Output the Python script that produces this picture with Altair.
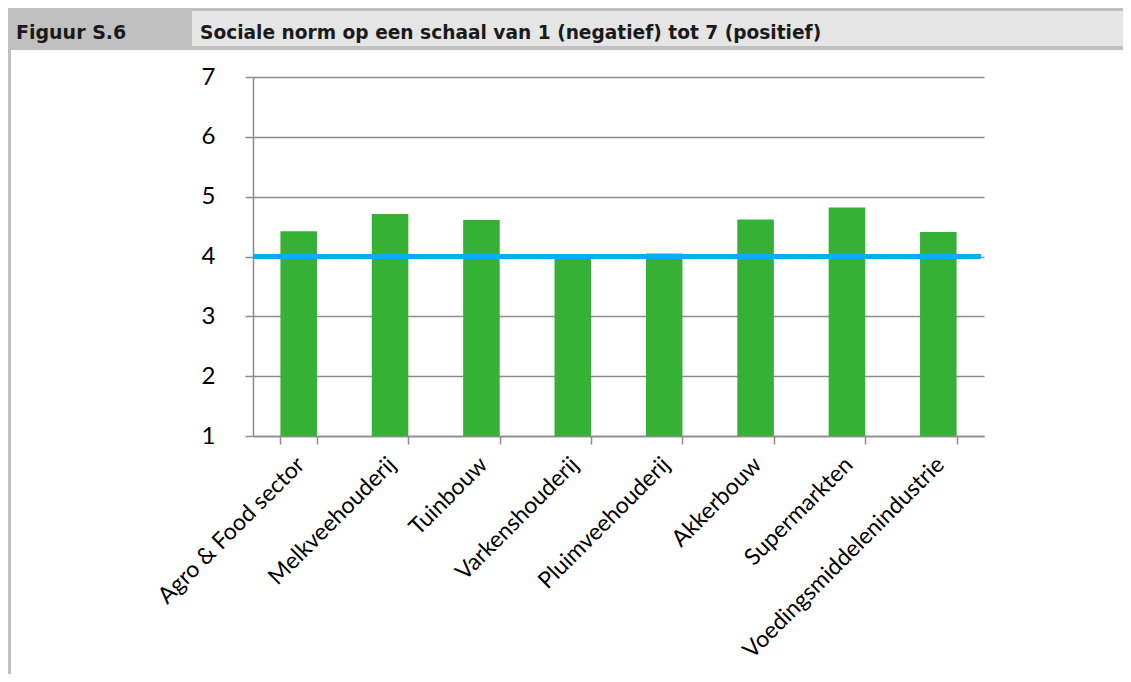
import altair as alt
import pandas as pd

categories = ["Agro & Food sector", "Melkveehouderij", "Tuinbouw", "Varkenshouderij",
              "Pluimveehouderij", "Akkerbouw", "Supermarkten", "Voedingsmiddelenindustrie"]
values = [4.42, 4.71, 4.61, 4.02, 4.05, 4.62, 4.82, 4.41]
reference_value = [4]
y_ticks = [1, 2, 3, 4, 5, 6, 7]
header_label = "Figuur S.6"
header_title = "Sociale norm op een schaal van 1 (negatief) tot 7 (positief)"

df = pd.DataFrame({"sector": categories, "score": values})
ref = pd.DataFrame({"v": reference_value})
one = pd.DataFrame({"k": [0]})

W, H = 731, 359
PL, PT = 245, 69
TOTAL_W, TOTAL_H = 1115, 666
GRID = "#8c8c8c"
LABEL_FONT = "Lato"
HEAD_FONT = "DejaVu Sans"

x = alt.X("sector:N", sort=categories,
          scale=alt.Scale(paddingInner=0.6, paddingOuter=0.3),
          axis=alt.Axis(title=None, labelAngle=-45, labelFont=LABEL_FONT, labelFontSize=23,
                        labelColor="#000000", tickBand="extent", tickSize=8, tickColor=GRID,
                        tickWidth=1.5, domainColor=GRID, domainWidth=1.5, grid=False,
                        labelPadding=9, labelLimit=0, labelOffset=-6))
y = alt.Y("score:Q", scale=alt.Scale(domain=[1, 7], nice=False, zero=False),
          axis=alt.Axis(title=None, values=y_ticks, grid=True, gridColor=GRID, gridWidth=1.5,
                        labelFont=LABEL_FONT, labelFontSize=24, labelColor="#000000",
                        labelPadding=30, tickSize=8, tickColor=GRID, tickWidth=1.5,
                        domainColor=GRID, domainWidth=1.5, format="d"))

bars = alt.Chart(df).mark_bar(color="#35B135").encode(x=x, y=y, y2=alt.datum(1))

rule = alt.Chart(ref).mark_rule(color="#00B0F0", strokeWidth=5).encode(
    y=alt.Y("v:Q"), x=alt.value(0), x2=alt.value(728))

head_bg = alt.Chart(one).mark_rect(color="#c0c0c0").encode(
    x=alt.value(-PL), x2=alt.value(TOTAL_W - PL), y=alt.value(-PT), y2=alt.value(-27))
head_light = alt.Chart(one).mark_rect(color="#e5e5e5").encode(
    x=alt.value(-61), x2=alt.value(TOTAL_W - PL), y=alt.value(-66), y2=alt.value(-31))
left_border = alt.Chart(one).mark_rect(color="#c0c0c0").encode(
    x=alt.value(-PL), x2=alt.value(-PL + 3), y=alt.value(-27), y2=alt.value(TOTAL_H - PT))

head_text1 = alt.Chart(one).mark_text(align="left", baseline="alphabetic", font=HEAD_FONT,
                                      fontSize=19, fontWeight="bold", color="#1a1a1a").encode(
    x=alt.value(-237), y=alt.value(-38), text=alt.value(header_label))
head_text2 = alt.Chart(one).mark_text(align="left", baseline="alphabetic", font=HEAD_FONT,
                                      fontSize=18.6, fontWeight="bold", color="#1a1a1a").encode(
    x=alt.value(-53), y=alt.value(-38), text=alt.value(header_title))

chart = alt.layer(head_bg, head_light, left_border, head_text1, head_text2, bars, rule).properties(
    width=W, height=H,
    padding={"left": PL, "top": PT, "right": TOTAL_W - PL - W, "bottom": TOTAL_H - PT - H},
    autosize=alt.AutoSizeParams(type="none"),
).configure_view(stroke=None)

chart.save("out.html", embed_options={"renderer": "svg", "actions": False})
